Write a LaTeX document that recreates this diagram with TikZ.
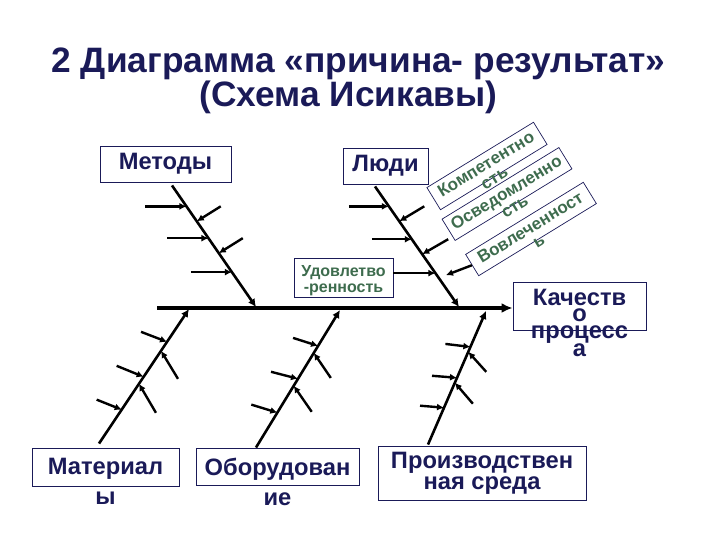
\documentclass[tikz,border=0pt]{standalone}
\usepackage{fontspec}
\setmainfont{Liberation Sans}
\usetikzlibrary{calc,arrows.meta}
\definecolor{inknavy}{RGB}{26,26,88}
\definecolor{inkgreen}{RGB}{62,108,78}
\def\bigfont{\bfseries\fontsize{23.7}{30}\selectfont}

\begin{document}
\begin{tikzpicture}[x=1pt,y=-1pt,
		cause/.style={draw=inknavy,line width=0.9pt,fill=white,text=inknavy,font=\bigfont,inner sep=0pt},
		causetext/.style={text=inknavy,font=\bigfont,align=center,inner sep=0pt,anchor=north},
		tag/.style={draw=inknavy,line width=0.7pt,inner sep=0pt,rotate=31.5},
		tagtext/.style={text=inkgreen,font=\bfseries\fontsize{17}{16}\selectfont,align=center,inner xsep=0pt,inner ysep=5pt,rotate=31.5,anchor=north},
		spine/.style={line width=3.6pt,-{Latex[length=11pt,width=10pt]}},
		bone/.style={line width=2.6pt,-{Latex[length=8pt,width=8pt]}},
		twig/.style={line width=2.4pt,-{Latex[length=7pt,width=7pt]}}]
		%%%%% START %%%%%
		\useasboundingbox (0,0) rectangle (720,540);
		
		\node[text=inknavy,font=\bfseries\fontsize{35.3}{34}\selectfont,inner sep=0pt,anchor=base] (title) at (358.5,72.5) {2 Диаграмма «причина- результат»};
		\node[text=inknavy,font=\bfseries\fontsize{35.3}{34}\selectfont,inner sep=0pt,anchor=base] (subtitle) at (348.5,106.5) {(Схема Исикавы)};
		
		% upper causes
		\node[cause,minimum width=131,minimum height=36] (metody) at (165.5,164) {Методы};
		\node[cause,minimum width=85,minimum height=36] (lyudi) at (385.5,166) {Люди};
		\node[cause,minimum width=99,minimum height=39] (udov) at (343.5,277.5) {};
		\node[text=inkgreen,align=center,inner sep=0pt,font=\bfseries\fontsize{16}{16}\selectfont] (udovtext) at ($(udov.center)+(0,3)$) {Удовлетво\\-ренность};
		
		\node[tag,minimum width=125,minimum height=26] (komp) at (487,166) {};
		\node[tagtext] (komptext) at (komp.north) {Компетентно\\сть};
		\node[tag,minimum width=137,minimum height=25] (osv) at (507,194) {};
		\node[tagtext] (osvtext) at (osv.north) {Осведомленно\\сть};
		\node[tag,minimum width=138,minimum height=25] (vovl) at (531,229) {};
		\node[tagtext] (vovltext) at (vovl.north) {Вовлеченност\\ь};
		
		% effect
		\node[cause,minimum width=133,minimum height=48] (kach) at (579.5,306) {};
		\node[causetext,font=\bfseries\fontsize{23.7}{16.5}\selectfont] (kachtext) at ($(kach.north)+(0,7)$) {Качеств\\о\\процесс\\а};
		
		% lower causes
		\node[cause,minimum width=147,minimum height=38] (mat) at (105.5,467) {};
		\node[causetext] (mattext) at ($(mat.north)+(0,10.5)$) {Материал\\ы};
		\node[cause,minimum width=163,minimum height=37] (obor) at (277.5,466.5) {};
		\node[causetext] (obortext) at ($(obor.north)+(0,10.5)$) {Оборудован\\ие};
		\node[cause,minimum width=208,minimum height=54,align=center,font=\bfseries\fontsize{23.7}{21}\selectfont] (proizv) at (482,473) {Производствен\\ная среда};
		
		% spine
		\coordinate (tail) at (157,308);
		\draw[spine] (tail) -- (tail -| kach.west);
		
		% Методы
		\coordinate (metA) at ($(metody.south)+(6.5,3)$);
		\coordinate (metB) at (256,307);
		\draw[bone] (metA) -- (metB);
		\coordinate (m1) at ($(metA)!0.172!(metB)$);
		\coordinate (m2) at ($(metA)!0.295!(metB)$);
		\coordinate (m3) at ($(metA)!0.434!(metB)$);
		\coordinate (m4) at ($(metA)!0.557!(metB)$);
		\coordinate (m5) at ($(metA)!0.713!(metB)$);
		\draw[twig] ($(m1)+(-41,0)$) -- (m1);
		\draw[twig] ($(m2)+(24,-15)$) -- (m2);
		\draw[twig] ($(m3)+(-41,0)$) -- (m3);
		\draw[twig] ($(m4)+(24,-15)$) -- (m4);
		\draw[twig] ($(m5)+(-41,0)$) -- (m5);
		
		% Люди
		\coordinate (lyA) at ($(lyudi.south)+(-10.5,2)$);
		\coordinate (lyB) at (459,307);
		\draw[bone] (lyA) -- (lyB);
		\coordinate (l1) at ($(lyA)!0.165!(lyB)$);
		\coordinate (l2) at ($(lyA)!0.289!(lyB)$);
		\coordinate (l3) at ($(lyA)!0.438!(lyB)$);
		\coordinate (l4) at ($(lyA)!0.562!(lyB)$);
		\coordinate (l5) at ($(lyA)!0.719!(lyB)$);
		\coordinate (l6) at ($(lyA)!0.744!(lyB)$);
		\coordinate (vtip) at ($(l6)+(8.5,-1)$);
		\draw[twig] ($(l1)+(-40,0)$) -- (l1);
		\draw[twig] ($(l2)+(25,-15)$) -- (l2);
		\draw[twig] ($(l3)+(-40,0)$) -- (l3);
		\draw[twig] ($(l4)+(26,-15)$) -- (l4);
		\draw[twig] (udov.east |- l5) -- (l5);
		\draw[twig] (vovl.west) -- (vtip);
		
		% Материалы
		\coordinate (matA) at ($(mat.north)+(-6.5,-4)$);
		\coordinate (matB) at (189,309);
		\draw[bone] (matA) -- (matB);
		\coordinate (a1) at ($(matA)!0.756!(matB)$);
		\coordinate (a2) at ($(matA)!0.689!(matB)$);
		\coordinate (a3) at ($(matA)!0.496!(matB)$);
		\coordinate (a4) at ($(matA)!0.444!(matB)$);
		\coordinate (a5) at ($(matA)!0.252!(matB)$);
		\draw[twig] ($(a1)+(-26,-10)$) -- (a1);
		\draw[twig] ($(a2)+(17,28)$) -- (a2);
		\draw[twig] ($(a3)+(-27,-11)$) -- (a3);
		\draw[twig] ($(a4)+(17,29)$) -- (a4);
		\draw[twig] ($(a5)+(-25,-10)$) -- (a5);
		
		% Оборудование
		\coordinate (oborA) at ($(obor.north)+(-21.5,0)$);
		\coordinate (oborB) at (340,310);
		\draw[bone] (oborA) -- (oborB);
		\coordinate (o1) at ($(oborA)!0.739!(oborB)$);
		\coordinate (o2) at ($(oborA)!0.688!(oborB)$);
		\coordinate (o3) at ($(oborA)!0.5!(oborB)$);
		\coordinate (o4) at ($(oborA)!0.449!(oborB)$);
		\coordinate (o5) at ($(oborA)!0.254!(oborB)$);
		\draw[twig] ($(o1)+(-25,-8)$) -- (o1);
		\draw[twig] ($(o2)+(17,25)$) -- (o2);
		\draw[twig] ($(o3)+(-27,-7)$) -- (o3);
		\draw[twig] ($(o4)+(18,26)$) -- (o4);
		\draw[twig] ($(o5)+(-26,-8)$) -- (o5);
		
		% Производственная среда
		\coordinate (proA) at ($(proizv.north)+(-54,-1)$);
		\coordinate (proB) at (486,311);
		\draw[bone] (proA) -- (proB);
		\coordinate (p1) at ($(proA)!0.731!(proB)$);
		\coordinate (p2) at ($(proA)!0.694!(proB)$);
		\coordinate (p3) at ($(proA)!0.5!(proB)$);
		\coordinate (p4) at ($(proA)!0.463!(proB)$);
		\coordinate (p5) at ($(proA)!0.276!(proB)$);
		\draw[twig] ($(p1)+(-25,-3)$) -- (p1);
		\draw[twig] ($(p2)+(18,20)$) -- (p2);
		\draw[twig] ($(p3)+(-25,-2)$) -- (p3);
		\draw[twig] ($(p4)+(18,21)$) -- (p4);
		\draw[twig] ($(p5)+(-24,-2)$) -- (p5);
		%%%%% END %%%%%
	\end{tikzpicture}
\end{document}
